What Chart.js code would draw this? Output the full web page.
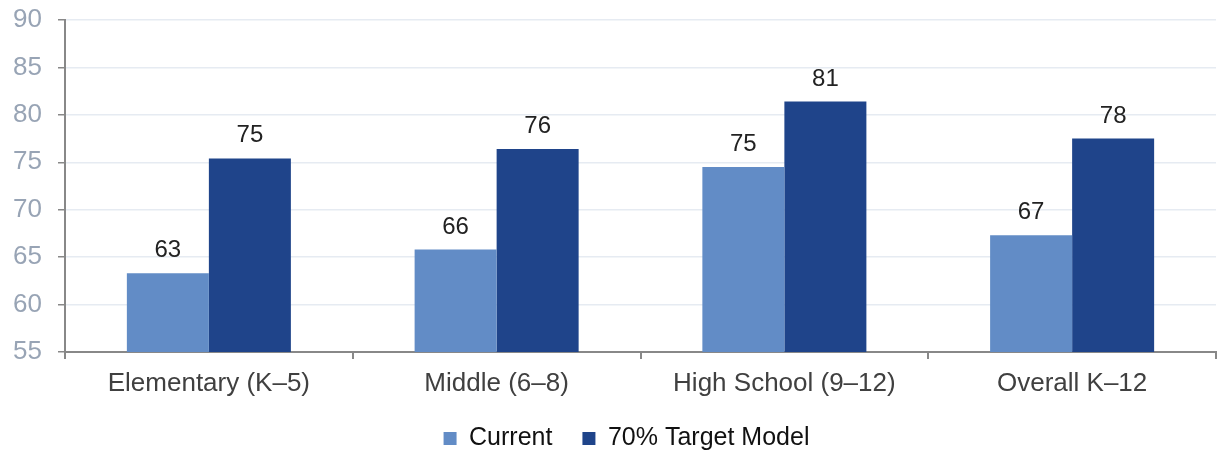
<!DOCTYPE html>
<html>
<head>
<meta charset="utf-8">
<script src="https://cdn.jsdelivr.net/npm/chart.js@4/dist/chart.umd.min.js"></script>
<style>
    html, body { margin: 0; padding: 0; background: #fff; }
    #wrap { width: 1224px; height: 450px; }
</style>
</head>
<body>
<div id="wrap"><canvas id="chart"></canvas></div>
<script>
const categories = ["Elementary (K\u20135)", "Middle (6\u20138)", "High School (9\u201312)", "Overall K\u201312"];
const currentValues = [63.3, 65.8, 74.5, 67.3];
const targetValues = [75.4, 76.4, 81.4, 77.5];
const yTicks = [55, 60, 65, 70, 75, 80, 85, 90];

const FONT = "'Liberation Sans', Arial, sans-serif";

// labels above each bar
const barLabels = {
    id: "barLabels",
    afterDatasetsDraw(chart) {
        const ctx = chart.ctx;
        ctx.save();
        ctx.font = "24px " + FONT;
        ctx.fillStyle = "#222222";
        ctx.textAlign = "center";
        ctx.textBaseline = "alphabetic";
        chart.data.datasets.forEach((ds, i) => {
            chart.getDatasetMeta(i).data.forEach((bar, j) => {
                ctx.fillText(Math.round(ds.data[j]), bar.x, bar.y - 16);
            });
        });
        ctx.restore();
    }
};

// fixed legend height so the items sit near the bottom, nudged a bit right
const legendTweak = {
    id: "legendTweak",
    beforeInit(chart) {
        const fit = chart.legend.fit;
        chart.legend.fit = function () {
            fit.bind(chart.legend)();
            this.height = 54;
        };
    },
    afterLayout(chart) {
        chart.legend.left += 12;
        chart.legend.right += 12;
    }
};

new Chart(document.getElementById("chart"), {
    type: "bar",
    data: {
        labels: categories,
        datasets: [
            { label: "Current", data: currentValues, backgroundColor: "#628CC6" },
            { label: "70% Target Model", data: targetValues, backgroundColor: "#1F448A" }
        ]
    },
    options: {
        responsive: true,
        maintainAspectRatio: false,
        animation: false,
        layout: { padding: { top: 20, right: 8, left: 13, bottom: 0 } },
        datasets: { bar: { categoryPercentage: 0.57, barPercentage: 1.0 } },
        plugins: {
            legend: {
                position: "bottom",
                labels: {
                    boxWidth: 13,
                    boxHeight: 13,
                    padding: 30,
                    color: "#111",
                    font: { size: 25, family: FONT }
                }
            },
            tooltip: { enabled: false }
        },
        scales: {
            x: {
                afterFit: axis => {
                    axis.height = 44;
                    axis.paddingLeft = 0;
                    axis.paddingRight = 0;
                },
                grid: {
                    offset: true,
                    drawOnChartArea: false,
                    tickLength: 7,
                    tickColor: "#888888",
                    lineWidth: 2
                },
                border: { color: "#888888", width: 2 },
                ticks: {
                    color: "#404040",
                    padding: 9,
                    font: { size: 26, family: FONT }
                }
            },
            y: {
                min: 55,
                max: 90,
                afterBuildTicks: axis => { axis.ticks = yTicks.map(v => ({ value: v })); },
                afterFit: axis => {
                    axis.width = 52;
                    axis.paddingTop = 0;
                    axis.paddingBottom = 0;
                },
                grid: {
                    color: "#E6EBF2",
                    tickColor: "#888888",
                    tickLength: 7,
                    lineWidth: 1.5
                },
                border: { color: "#888888", width: 2 },
                ticks: {
                    color: "#98A4B5",
                    padding: 16,
                    font: { size: 26, family: FONT }
                }
            }
        }
    },
    plugins: [barLabels, legendTweak]
});
</script>
</body>
</html>
